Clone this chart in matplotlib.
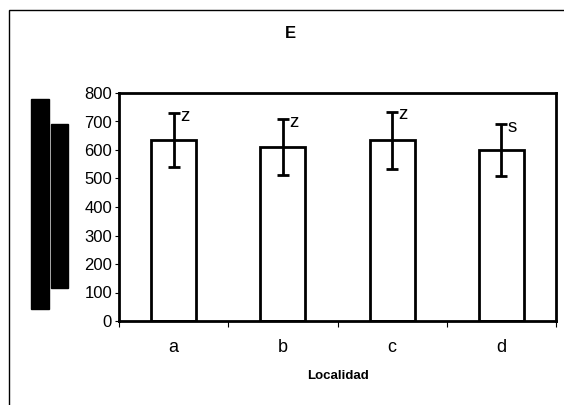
import matplotlib
matplotlib.use("Agg")
import matplotlib.pyplot as plt
from matplotlib.patches import Rectangle

plt.rcParams["font.family"] = ["Liberation Sans", "DejaVu Sans"]

# --- Data ---
sites = ["a", "b", "c", "d"]
means = [635, 610, 635, 600]
errors = [95, 98, 100, 92]
groups = ["z", "z", "z", "s"]
# ------------

fig = plt.figure(figsize=(5.64, 4.05), dpi=100)
ax = fig.add_axes([119 / 564, 84 / 405, 437 / 564, 228 / 405])

x = range(len(sites))
ax.bar(x, means, width=0.41, color="white", edgecolor="black", linewidth=2.0, zorder=2)
ax.errorbar(x, means, yerr=errors, fmt="none", ecolor="black",
            elinewidth=2.0, capsize=4.6, capthick=2.0, zorder=3)
for xi, m, e, g in zip(x, means, errors, groups):
    ax.text(xi + 0.06, m + e - 12, g, fontsize=13.5, ha="left", va="center")

ax.set_xlim(-0.5, len(sites) - 0.5)
ax.set_ylim(0, 800)
ax.set_yticks(range(0, 801, 100))
ax.set_xticks(x)
ax.set_xticklabels(sites)
ax.set_xticks([i - 0.5 for i in range(len(sites) + 1)], minor=True)
ax.tick_params(axis="x", which="major", length=0, labelsize=13, pad=13)
ax.tick_params(axis="x", which="minor", length=4, width=0.8, direction="out")
ax.tick_params(axis="y", length=3, width=0.8, labelsize=12, pad=2)
for s in ax.spines.values():
    s.set_linewidth(2.0)

ax.set_xlabel("Localidad", fontsize=9.5, fontweight="bold", labelpad=10)
fig.text(0.515, 0.918, "E", fontsize=12, fontweight="bold", ha="center", va="center")

# outer chart frame (extends past the right and bottom edges)
fig.add_artist(Rectangle((9 / 564, -0.05), 1.0, 1 - 10 / 405 + 0.05,
                         transform=fig.transFigure, fill=False,
                         edgecolor="black", linewidth=1.0))

# blacked-out y-axis title
fig.add_artist(Rectangle((31 / 564, 1 - 309 / 405), 18 / 564, 210 / 405,
                         transform=fig.transFigure, color="black"))
fig.add_artist(Rectangle((50.5 / 564, 1 - 288 / 405), 17.5 / 564, 164 / 405,
                         transform=fig.transFigure, color="black"))

fig.savefig("out.png", dpi=100)
